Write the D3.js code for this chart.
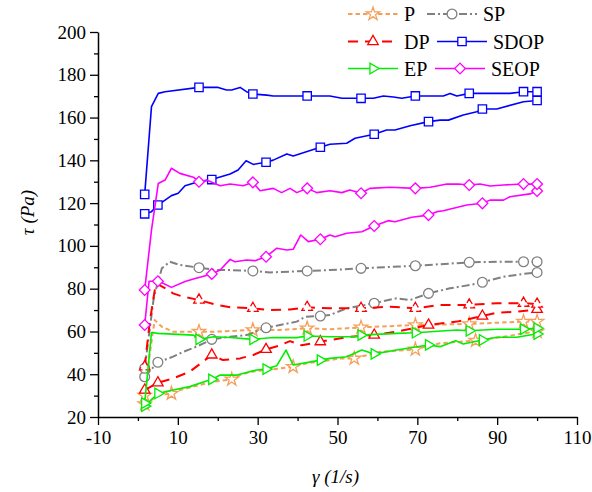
<!DOCTYPE html>
<html>
<head>
<meta charset="utf-8">
<script src="https://cdn.jsdelivr.net/npm/d3@7/dist/d3.min.js"></script>
</head>
<body style="margin:0">
<svg id="chart" width="592" height="492" style="display:block;font-family:'Liberation Serif', monospace"></svg>
<script>
// Shear stress τ (Pa) versus shear rate γ (1/s): ramp-up and ramp-down curves per sample.
const seriesNames = ["P", "SP", "DP", "SDOP", "EP", "SEOP"];

const xTicks = [-10, 10, 30, 50, 70, 90, 110];
const yTicks = [20, 40, 60, 80, 100, 120, 140, 160, 180, 200];

// shear rates at which symbols are plotted
const upMarks = [1.7, 5.0, 18.5, 32.1, 45.7, 59.2, 72.8, 86.3, 100];
const downMarks = [1.7, 15.3, 28.8, 42.4, 55.9, 69.5, 83.0, 96.6, 100];
const pUpMarks = [1.7, 8.4, 23.5, 38.9, 54.2, 69.5, 84.6, 100];

// [shear rate, shear stress]
const pUp = [[1.7,26.0],[5.0,30.0],[8.4,31.0],[10.5,32.6],[15.5,35.0],[18.9,36.5],[23.5,37.6],[25.5,39.6],[28.5,41.2],[32.0,42.0],[35.6,42.7],[38.9,43.5],[42.3,45.1],[45.6,45.9],[48.1,46.6],[50.6,47.4],[54.2,47.4],[60.6,50.5],[69.5,51.6],[75.7,54.5],[84.6,55.7],[91.6,57.5],[96.6,59.1],[100,59.9]];
const pDown = [[1.7,30.0],[3.0,50.0],[4.2,65.3],[6.0,62.2],[8.8,59.9],[15.3,59.9],[19.7,59.9],[28.8,60.7],[35.6,60.7],[42.4,61.5],[48.1,61.0],[55.9,61.9],[69.5,63.0],[83.0,63.5],[96.6,64.6],[100,64.6]];

const spUp = [[1.7,38.8],[5.0,45.6],[8.8,48.2],[11.4,50.5],[14.7,52.9],[18.5,56.3],[23.1,57.5],[27.2,58.3],[32.1,61.7],[35.6,63.0],[39.8,64.6],[41.9,66.9],[45.7,67.2],[48.1,67.7],[52.3,70.8],[59.2,73.2],[64.8,75.5],[68.2,74.7],[72.8,77.8],[78.2,80.2],[83.2,81.7],[86.3,83.0],[91.6,85.6],[96.6,86.9],[100,87.6]];
const spDown = [[1.7,42.8],[4.0,76.2],[6.0,89.5],[8.0,92.6],[10.5,91.1],[15.3,89.8],[19.7,88.7],[23.1,88.7],[28.8,88.3],[33.1,87.6],[42.4,88.3],[48.1,88.7],[55.9,89.5],[69.5,90.7],[83.0,92.3],[89.9,92.6],[96.6,92.6],[100,92.6]];

const dpUp = [[1.7,32.6],[5.0,36.0],[8.8,38.0],[13.0,41.2],[18.5,49.0],[21.3,46.6],[25.6,47.4],[28.9,49.0],[32.1,51.6],[35.6,53.5],[38.1,55.5],[41.0,53.5],[45.7,55.2],[48.1,56.0],[53.1,57.5],[59.2,58.3],[64.8,59.9],[72.8,63.0],[79.9,64.6],[86.3,67.2],[89.9,68.8],[94.9,69.2],[100,70.3]];
const dpDown = [[1.7,43.5],[3.0,65.0],[4.5,82.5],[7.6,79.4],[8.8,77.8],[11.4,76.2],[15.3,74.7],[19.7,72.4],[23.1,71.3],[28.8,70.8],[33.1,70.0],[38.1,70.3],[42.4,71.3],[48.1,70.8],[55.9,70.8],[63.2,71.6],[69.5,70.8],[75.7,72.4],[83.0,72.4],[89.9,73.2],[96.6,73.2],[100,72.8]];

const sdopUp = [[1.7,115.0],[3.4,116.0],[5.0,119.1],[6.8,121.4],[8.4,123.5],[10.1,124.6],[11.8,128.1],[13.9,129.3],[18.5,131.0],[23.1,133.6],[25.1,135.5],[27.1,139.8],[28.9,138.1],[32.1,139.1],[33.9,140.1],[37.3,143.0],[38.9,142.0],[45.7,146.1],[48.1,147.5],[52.3,148.0],[54.4,150.3],[59.2,152.2],[62.3,154.2],[64.4,154.2],[68.2,156.2],[72.8,158.1],[75.7,158.8],[77.8,158.8],[81.5,161.2],[84.9,162.7],[86.3,164.0],[89.9,164.0],[96.6,167.4],[100,168.0]];
const sdopDown = [[1.7,124.1],[3.4,165.1],[5.1,171.3],[6.8,172.1],[15.3,174.1],[20.1,174.1],[22.2,172.9],[23.5,172.9],[25.6,174.1],[27.2,172.1],[28.8,171.0],[32.3,170.5],[33.9,170.1],[42.4,170.1],[48.1,170.1],[51.1,169.0],[55.9,169.0],[59.0,169.0],[61.5,170.1],[64.0,169.6],[66.1,169.0],[69.5,170.1],[76.5,170.1],[78.2,171.3],[79.9,170.1],[83.0,171.3],[93.2,171.3],[96.6,172.1],[100,172.1]];

const epUp = [[1.7,25.1],[5.0,31.0],[8.8,32.6],[13.0,34.2],[18.5,37.6],[20.6,39.6],[24.8,39.6],[29.8,42.0],[32.1,42.4],[34.8,44.0],[37.1,51.3],[38.9,44.3],[45.7,46.6],[48.1,47.4],[52.3,48.2],[56.1,51.3],[59.2,49.5],[64.8,51.3],[72.8,53.7],[75.7,52.9],[79.6,55.7],[81.5,54.1],[86.3,56.0],[89.9,57.3],[94.9,57.3],[98.2,58.3],[100,58.8]];
const epDown = [[1.7,26.5],[3.4,59.5],[5.0,59.1],[13.9,58.3],[15.3,56.3],[19.0,57.5],[23.1,57.2],[28.8,56.3],[33.9,57.2],[39.8,57.1],[42.4,57.9],[48.1,57.5],[54.4,57.5],[55.9,58.3],[64.8,59.1],[69.5,59.4],[79.9,60.7],[83.0,60.3],[89.9,61.0],[96.6,61.1],[100,61.5]];

const seopUp = [[1.7,63.0],[2.8,83.5],[5.0,83.5],[6.3,82.5],[8.4,80.6],[11.8,83.3],[13.9,84.5],[18.5,86.9],[20.6,88.7],[23.1,93.7],[24.3,92.6],[27.2,93.4],[29.3,93.1],[32.1,94.9],[34.8,98.9],[37.3,98.1],[38.9,98.4],[40.8,105.1],[42.7,102.0],[45.7,103.1],[48.1,105.1],[49.4,104.3],[52.3,105.9],[56.1,106.6],[59.2,109.3],[62.7,111.8],[64.4,111.3],[68.6,113.4],[72.8,114.4],[74.9,116.0],[76.5,116.4],[82.4,119.1],[86.3,119.9],[88.2,121.4],[91.6,121.4],[93.2,123.0],[98.2,124.3],[100,125.7]];
const seopDown = [[1.7,79.4],[3.4,107.4],[5.1,129.2],[6.8,130.8],[8.4,136.3],[10.5,133.9],[13.9,132.1],[15.3,130.0],[17.2,130.8],[20.6,128.1],[23.1,128.9],[26.4,128.1],[28.8,129.7],[30.6,125.8],[33.9,126.9],[36.0,124.9],[38.1,126.9],[39.8,124.9],[42.4,126.9],[44.8,124.9],[48.1,125.8],[51.1,124.9],[53.1,126.1],[55.9,124.6],[58.1,126.9],[63.2,127.4],[69.5,126.9],[73.2,127.4],[74.9,128.0],[77.4,128.9],[80.3,128.9],[83.0,128.5],[85.7,128.9],[88.2,128.0],[91.6,128.5],[96.6,128.9],[100,128.9]];

const FONT = '"Liberation Serif", monospace';

// ---- styling ----
const styles = {
  P:    { color: "#f5a05a", dash: "4.5,3",     width: 2,   symbol: d3.symbolStar,     size: 55, rotate: 0 },
  SP:   { color: "#808080", dash: "8,3,2,3",   width: 2,   symbol: d3.symbolCircle,   size: 75, rotate: 0 },
  DP:   { color: "#ff0000", dash: "10,7",      width: 2,   symbol: d3.symbolTriangle, size: 48, rotate: 0 },
  SDOP: { color: "#0000ff", dash: null,        width: 1.6, symbol: d3.symbolSquare,   size: 70, rotate: 0 },
  EP:   { color: "#00ee00", dash: null,        width: 1.6, symbol: d3.symbolTriangle, size: 48, rotate: 90 },
  SEOP: { color: "#ff00ff", dash: null,        width: 1.6, symbol: d3.symbolSquare,   size: 58, rotate: 45 }
};

const curves = [
  { name: "P",    up: pUp,    down: pDown,    upMarks: pUpMarks },
  { name: "SP",   up: spUp,   down: spDown,   upMarks: upMarks },
  { name: "DP",   up: dpUp,   down: dpDown,   upMarks: upMarks, dashedDownMarks: true },
  { name: "SDOP", up: sdopUp, down: sdopDown, upMarks: upMarks },
  { name: "EP",   up: epUp,   down: epDown,   upMarks: upMarks },
  { name: "SEOP", up: seopUp, down: seopDown, upMarks: upMarks }
];

const svg = d3.select("#chart");
const x = d3.scaleLinear().domain([-10, 110]).range([98, 577]);
const y = d3.scaleLinear().domain([20, 200]).range([417, 32]);

const line = d3.line().x(d => x(d[0])).y(d => y(d[1]));

function symbolPath(st) {
  return d3.symbol().type(st.symbol).size(st.size)();
}

const plot = svg.append("g");

curves.forEach(c => {
  const st = styles[c.name];
  const g = plot.append("g");
  [c.up, c.down].forEach(arr => {
    g.append("path")
      .datum(arr)
      .attr("d", line)
      .attr("fill", "none")
      .attr("stroke", st.color)
      .attr("stroke-width", st.width)
      .attr("stroke-dasharray", st.dash)
      .attr("stroke-linejoin", "round");
  });
  const marks = (arr, list) => arr.filter(d => list.some(m => Math.abs(m - d[0]) < 0.05));
  const drawMarks = (pts, dashed) => {
    g.selectAll(null)
      .data(pts)
      .join("path")
      .attr("d", symbolPath(st))
      .attr("transform", d => `translate(${x(d[0])},${y(d[1])}) rotate(${st.rotate})`)
      .attr("fill", "#fff")
      .attr("stroke", st.color)
      .attr("stroke-width", 1.3)
      .attr("stroke-dasharray", dashed ? "6,3" : null);
  };
  drawMarks(marks(c.up, c.upMarks), false);
  drawMarks(marks(c.down, downMarks), !!c.dashedDownMarks);
});

// ---- axes ----
const fmt = d => String(d);

function axisGroup(transform) {
  return svg.append("g").attr("transform", transform);
}

axisGroup(`translate(${x(-10)},0)`)
  .call(d3.axisLeft(y).tickValues(yTicks).tickSize(8).tickSizeOuter(0).tickPadding(4).tickFormat(fmt));
axisGroup(`translate(${x(-10)},0)`)
  .call(d3.axisLeft(y).tickValues(d3.range(30, 200, 20)).tickSize(4).tickSizeOuter(0).tickFormat(""))
  .select(".domain").remove();

axisGroup(`translate(0,${y(20)})`)
  .call(d3.axisBottom(x).tickValues(xTicks).tickSize(8).tickSizeOuter(0).tickPadding(6).tickFormat(fmt));
axisGroup(`translate(0,${y(20)})`)
  .call(d3.axisBottom(x).tickValues(d3.range(0, 110, 20)).tickSize(4).tickSizeOuter(0).tickFormat(""))
  .select(".domain").remove();

// d3 puts font-family="sans-serif" on axis groups; drop it so the serif face is inherited
svg.selectAll("g").attr("font-family", null).attr("font-size", null);

svg.selectAll(".domain").attr("stroke", "#000").attr("stroke-width", 1.5);
svg.selectAll(".tick line").attr("stroke", "#000").attr("stroke-width", 1.3);
svg.selectAll(".tick text")
  .attr("font-family", "Liberation Serif")
  .style("font-family", FONT)
  .style("font-size", "19px")
  .attr("fill", "#000");

// axis titles
svg.append("text")
  .attr("transform", `translate(34,${(y(20) + y(200)) / 2 - 12}) rotate(-90)`)
  .attr("text-anchor", "middle")
  .attr("font-family", "Liberation Serif")
  .style("font-family", FONT)
  .style("font-size", "19px")
  .style("font-style", "italic")
  .text("τ (Pa)");

svg.append("text")
  .attr("x", (x(-10) + x(110)) / 2 - 2)
  .attr("y", 483)
  .attr("text-anchor", "middle")
  .attr("font-family", "Liberation Serif")
  .style("font-family", FONT)
  .style("font-size", "19px")
  .style("font-style", "italic")
  .text("γ (1/s)");

// ---- legend ----
const legendRows = [
  [{ name: "P",  x0: 348 }, { name: "SP",   x0: 427 }],
  [{ name: "DP", x0: 348 }, { name: "SDOP", x0: 437 }],
  [{ name: "EP", x0: 348 }, { name: "SEOP", x0: 435 }]
];
const rowY = [14, 41.5, 68.5];
const sampleLen = 50;

legendRows.forEach((row, i) => {
  row.forEach(item => {
    const st = styles[item.name];
    const g = svg.append("g");
    const cy = rowY[i];
    g.append("line")
      .attr("x1", item.x0).attr("x2", item.x0 + sampleLen)
      .attr("y1", cy).attr("y2", cy)
      .attr("stroke", st.color)
      .attr("stroke-width", st.width)
      .attr("stroke-dasharray", st.dash);
    g.append("path")
      .attr("d", symbolPath(st))
      .attr("transform", `translate(${item.x0 + sampleLen / 2},${cy}) rotate(${st.rotate})`)
      .attr("fill", "#fff")
      .attr("stroke", st.color)
      .attr("stroke-width", 1.3);
    g.append("text")
      .attr("x", item.x0 + sampleLen + 6)
      .attr("y", cy + 7)
      .attr("font-family", "Liberation Serif")
      .style("font-family", FONT)
      .style("font-size", "20px")
      .attr("fill", "#000")
      .text(item.name);
  });
});
</script>
</body>
</html>
